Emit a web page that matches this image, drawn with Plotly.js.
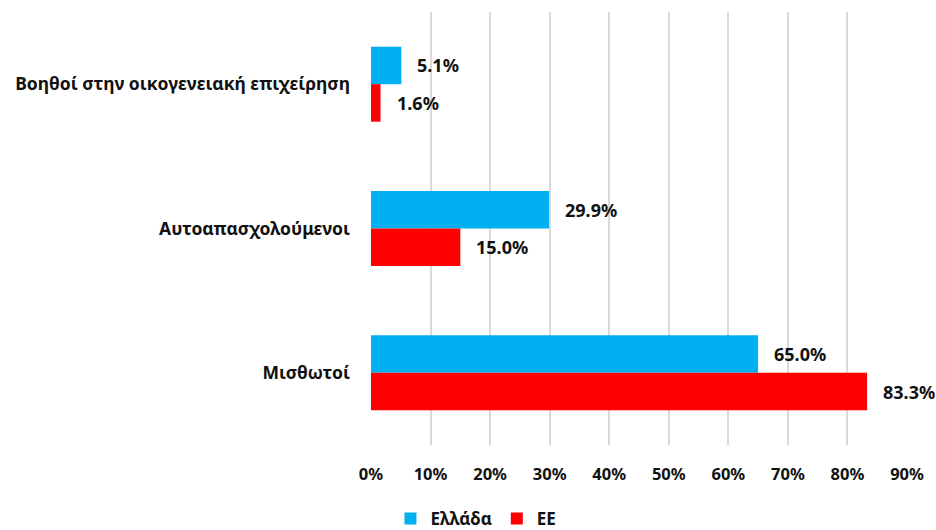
<!DOCTYPE html>
<html>
<head>
<meta charset="utf-8">
<script src="https://cdn.plot.ly/plotly-3.0.1.min.js"></script>
<style>html,body{margin:0;padding:0;background:#fff}#chart{width:936px;height:530px}</style>
</head>
<body>
<div id="chart"></div>
<script>
const categories = ["Βοηθοί στην οικογενειακή επιχείρηση", "Αυτοαπασχολούμενοι", "Μισθωτοί"];
const seriesNames = ["Ελλάδα", "ΕΕ"];
const greece = [5.1, 29.9, 65.0];
const eu = [1.6, 15.0, 83.3];
const xTicks = [0, 10, 20, 30, 40, 50, 60, 70, 80, 90];
const xTickLabels = ["0%", "10%", "20%", "30%", "40%", "50%", "60%", "70%", "80%", "90%"];

const colors = ["#00B0F0", "#FF0000"];
const FONT = "Noto Sans, sans-serif";
const TXT = "#111111";

const traces = [greece, eu].map((vals, i) => ({
  type: "bar",
  orientation: "h",
  name: seriesNames[i],
  y: categories,
  x: vals,
  marker: {color: colors[i]},
  hoverinfo: "skip"
}));

const barOffset = 18.8;
const annotations = [];
[greece, eu].forEach((vals, i) => {
  vals.forEach((v, j) => {
    annotations.push({
      x: v, y: categories[j], xref: "x", yref: "y",
      text: "<b>" + v.toFixed(1) + "%</b>",
      showarrow: false, xanchor: "left", yanchor: "middle",
      xshift: 14, yshift: i === 0 ? barOffset : -barOffset,
      font: {family: FONT, size: 18, color: TXT}
    });
  });
});

const layout = {
  width: 936, height: 530,
  margin: {l: 371, r: 29, t: 12, b: 85, autoexpand: false},
  paper_bgcolor: "#fff", plot_bgcolor: "#fff",
  barmode: "group",
  bargap: 0.48, bargroupgap: 0,
  showlegend: true,
  legend: {orientation: "h", xref: "container", x: 0.5085, xanchor: "center",
    yref: "container", y: 0.021, yanchor: "middle",
    font: {family: FONT, size: 17, color: TXT, weight: "bold"}, itemwidth: 30, itemsizing: "constant",
    tracegroupgap: 0},
  xaxis: {
    range: [0, 90], tickvals: xTicks, ticktext: xTickLabels,
    showgrid: true, gridcolor: "#D9D9D9", gridwidth: 2,
    zeroline: false, showline: false, ticks: "",
    ticklabelstandoff: 17,
    tickfont: {family: FONT, size: 16.5, color: TXT, weight: "bold"},
    fixedrange: true, automargin: false
  },
  yaxis: {
    autorange: "reversed",
    showgrid: false, zeroline: false, showline: false, ticks: "",
    ticklabelstandoff: 20,
    tickfont: {family: FONT, size: 17.5, color: TXT, weight: "bold"},
    fixedrange: true, automargin: false
  },
  annotations: annotations
};

Plotly.newPlot("chart", traces, layout, {displayModeBar: false, staticPlot: true});
</script>
</body>
</html>
